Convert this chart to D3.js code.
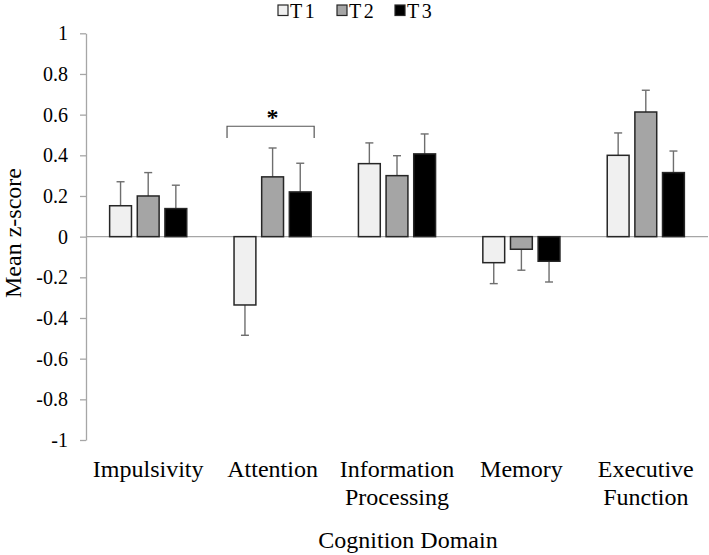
<!DOCTYPE html>
<html>
<head>
<meta charset="utf-8">
<script src="https://cdn.jsdelivr.net/npm/d3@7"></script>
<style>
  html, body { margin: 0; padding: 0; background: #fff; }
  svg { display: block; }
  svg text { font-family: 'Liberation Serif', 'Times New Roman', serif !important; fill: #000; }
</style>
</head>
<body>
<svg id="chart" width="709" height="555" font-family="'Liberation Serif', serif"></svg>
<script>
const categories = ["Impulsivity", "Attention", "Information Processing", "Memory", "Executive Function"];
const categoryLines = [["Impulsivity"], ["Attention"], ["Information", "Processing"], ["Memory"], ["Executive", "Function"]];
const seriesNames = ["T1", "T2", "T3"];
const seriesColors = ["#f0f0f0", "#a5a5a5", "#000000"];
const t1Values = [0.152, -0.336, 0.359, -0.128, 0.400];
const t2Values = [0.200, 0.294, 0.300, -0.062, 0.613];
const t3Values = [0.138, 0.220, 0.407, -0.121, 0.315];
const t1Errors = [0.118, 0.149, 0.102, 0.103, 0.110];
const t2Errors = [0.115, 0.142, 0.098, 0.103, 0.107];
const t3Errors = [0.115, 0.141, 0.098, 0.102, 0.106];
const yTicks = [-1, -0.8, -0.6, -0.4, -0.2, 0, 0.2, 0.4, 0.6, 0.8, 1];
const yTitle = "Mean z-score";
const xTitle = "Cognition Domain";
const sigLabel = "*";
const sigCategory = "Attention";

const values = [t1Values, t2Values, t3Values];
const errors = [t1Errors, t2Errors, t3Errors];

(function () {
const svg = d3.select("#chart");
const mLeft = 86, mRight = 708, mTop = 33.3, mBottom = 440;
const serif = "'Liberation Serif', 'Times New Roman', serif";

const y = d3.scaleLinear().domain([-1, 1]).range([mBottom, mTop]);
const x0 = d3.scaleBand().domain(categories).range([mLeft, mRight]).paddingInner(0.38).paddingOuter(0.19);
const x1 = d3.scaleBand().domain(seriesNames).range([0, x0.bandwidth()]).paddingInner(0.21).paddingOuter(0);

const fmt = d => d === 0 ? "0" : (Math.abs(d) === 1 ? String(d) : d.toFixed(1)).replace("\u2212", "-");

// Y axis
const yAxis = svg.append("g").attr("transform", `translate(${mLeft},0)`)
  .call(d3.axisLeft(y).tickValues(yTicks).tickFormat(fmt).tickSizeInner(6).tickSizeOuter(0).tickPadding(12));
yAxis.attr("font-family", serif).attr("font-size", 20);
yAxis.select(".domain").attr("stroke", "#a6a6a6").attr("stroke-width", 1.3);
yAxis.selectAll(".tick line").attr("stroke", "#a6a6a6").attr("stroke-width", 1.3);
yAxis.selectAll(".tick text").attr("font-family", serif).style("font-size", "20px").attr("fill", "#000");

// zero baseline
svg.append("line")
  .attr("x1", mLeft).attr("x2", mRight)
  .attr("y1", y(0)).attr("y2", y(0))
  .attr("stroke", "#a6a6a6").attr("stroke-width", 1.3);

// bars
const data = [];
categories.forEach((c, i) => {
  seriesNames.forEach((s, j) => {
    data.push({ cat: c, ser: s, j, v: values[j][i], e: errors[j][i] });
  });
});

const groups = svg.append("g");
const cx = d => x0(d.cat) + x1(d.ser) + x1.bandwidth() / 2;
const ey = d => y(d.v + Math.sign(d.v) * d.e);
const eb = groups.selectAll(".err").data(data).enter().append("g").attr("class", "err");
eb.append("line")
  .attr("x1", cx).attr("x2", cx)
  .attr("y1", d => y(d.v)).attr("y2", ey)
  .attr("stroke", "#6e6e6e").attr("stroke-width", 1.4);
eb.append("line")
  .attr("x1", d => cx(d) - 4).attr("x2", d => cx(d) + 4)
  .attr("y1", ey).attr("y2", ey)
  .attr("stroke", "#6e6e6e").attr("stroke-width", 1.4);

groups.selectAll("rect").data(data).enter().append("rect")
  .attr("x", d => x0(d.cat) + x1(d.ser))
  .attr("width", x1.bandwidth())
  .attr("y", d => Math.min(y(d.v), y(0)))
  .attr("height", d => Math.abs(y(d.v) - y(0)))
  .attr("fill", d => seriesColors[d.j])
  .attr("stroke", "#262626").attr("stroke-width", 1.5);

// significance bracket
const bx1 = x0(sigCategory) - 7, bx2 = x0(sigCategory) + x0.bandwidth() + 3;
const byTop = y(0.543), byBot = y(0.485);
svg.append("path")
  .attr("d", `M${bx1},${byBot}V${byTop}H${bx2}V${byBot}`)
  .attr("fill", "none").attr("stroke", "#555").attr("stroke-width", 1.2);
svg.append("text")
  .attr("x", (bx1 + bx2) / 2 + 2).attr("y", y(0.543) - 1)
  .attr("text-anchor", "middle")
  .style("font-size", "24px").style("font-weight", "bold")
  .text(sigLabel);

// x category labels
const xl = svg.append("g");
categories.forEach((c, i) => {
  const t = xl.append("text")
    .attr("x", x0(c) + x0.bandwidth() / 2)
    .attr("y", 477)
    .attr("text-anchor", "middle")
    .style("font-size", "24px");
  categoryLines[i].forEach((ln, k) => {
    t.append("tspan").attr("x", x0(c) + x0.bandwidth() / 2).attr("dy", k === 0 ? 0 : 28).text(ln);
  });
});

// axis titles
svg.append("text")
  .attr("transform", `translate(${21},${233}) rotate(-90)`)
  .attr("text-anchor", "middle")
  .style("font-size", "24px")
  .text(yTitle);
svg.append("text")
  .attr("x", (mLeft + mRight) / 2 + 11).attr("y", 548)
  .attr("text-anchor", "middle")
  .style("font-size", "24px")
  .text(xTitle);

// legend
const legendX = [278, 337, 395];
const lg = svg.append("g");
seriesNames.forEach((s, j) => {
  lg.append("rect").attr("x", legendX[j]).attr("y", 5).attr("width", 10).attr("height", 10.5)
    .attr("fill", seriesColors[j]).attr("stroke", "#262626").attr("stroke-width", 1.2);
  lg.append("text").attr("x", legendX[j] + 12).attr("y", 18)
    .style("font-size", "20px").style("letter-spacing", "2.5px").text(s);
});
})();
</script>
</body>
</html>
